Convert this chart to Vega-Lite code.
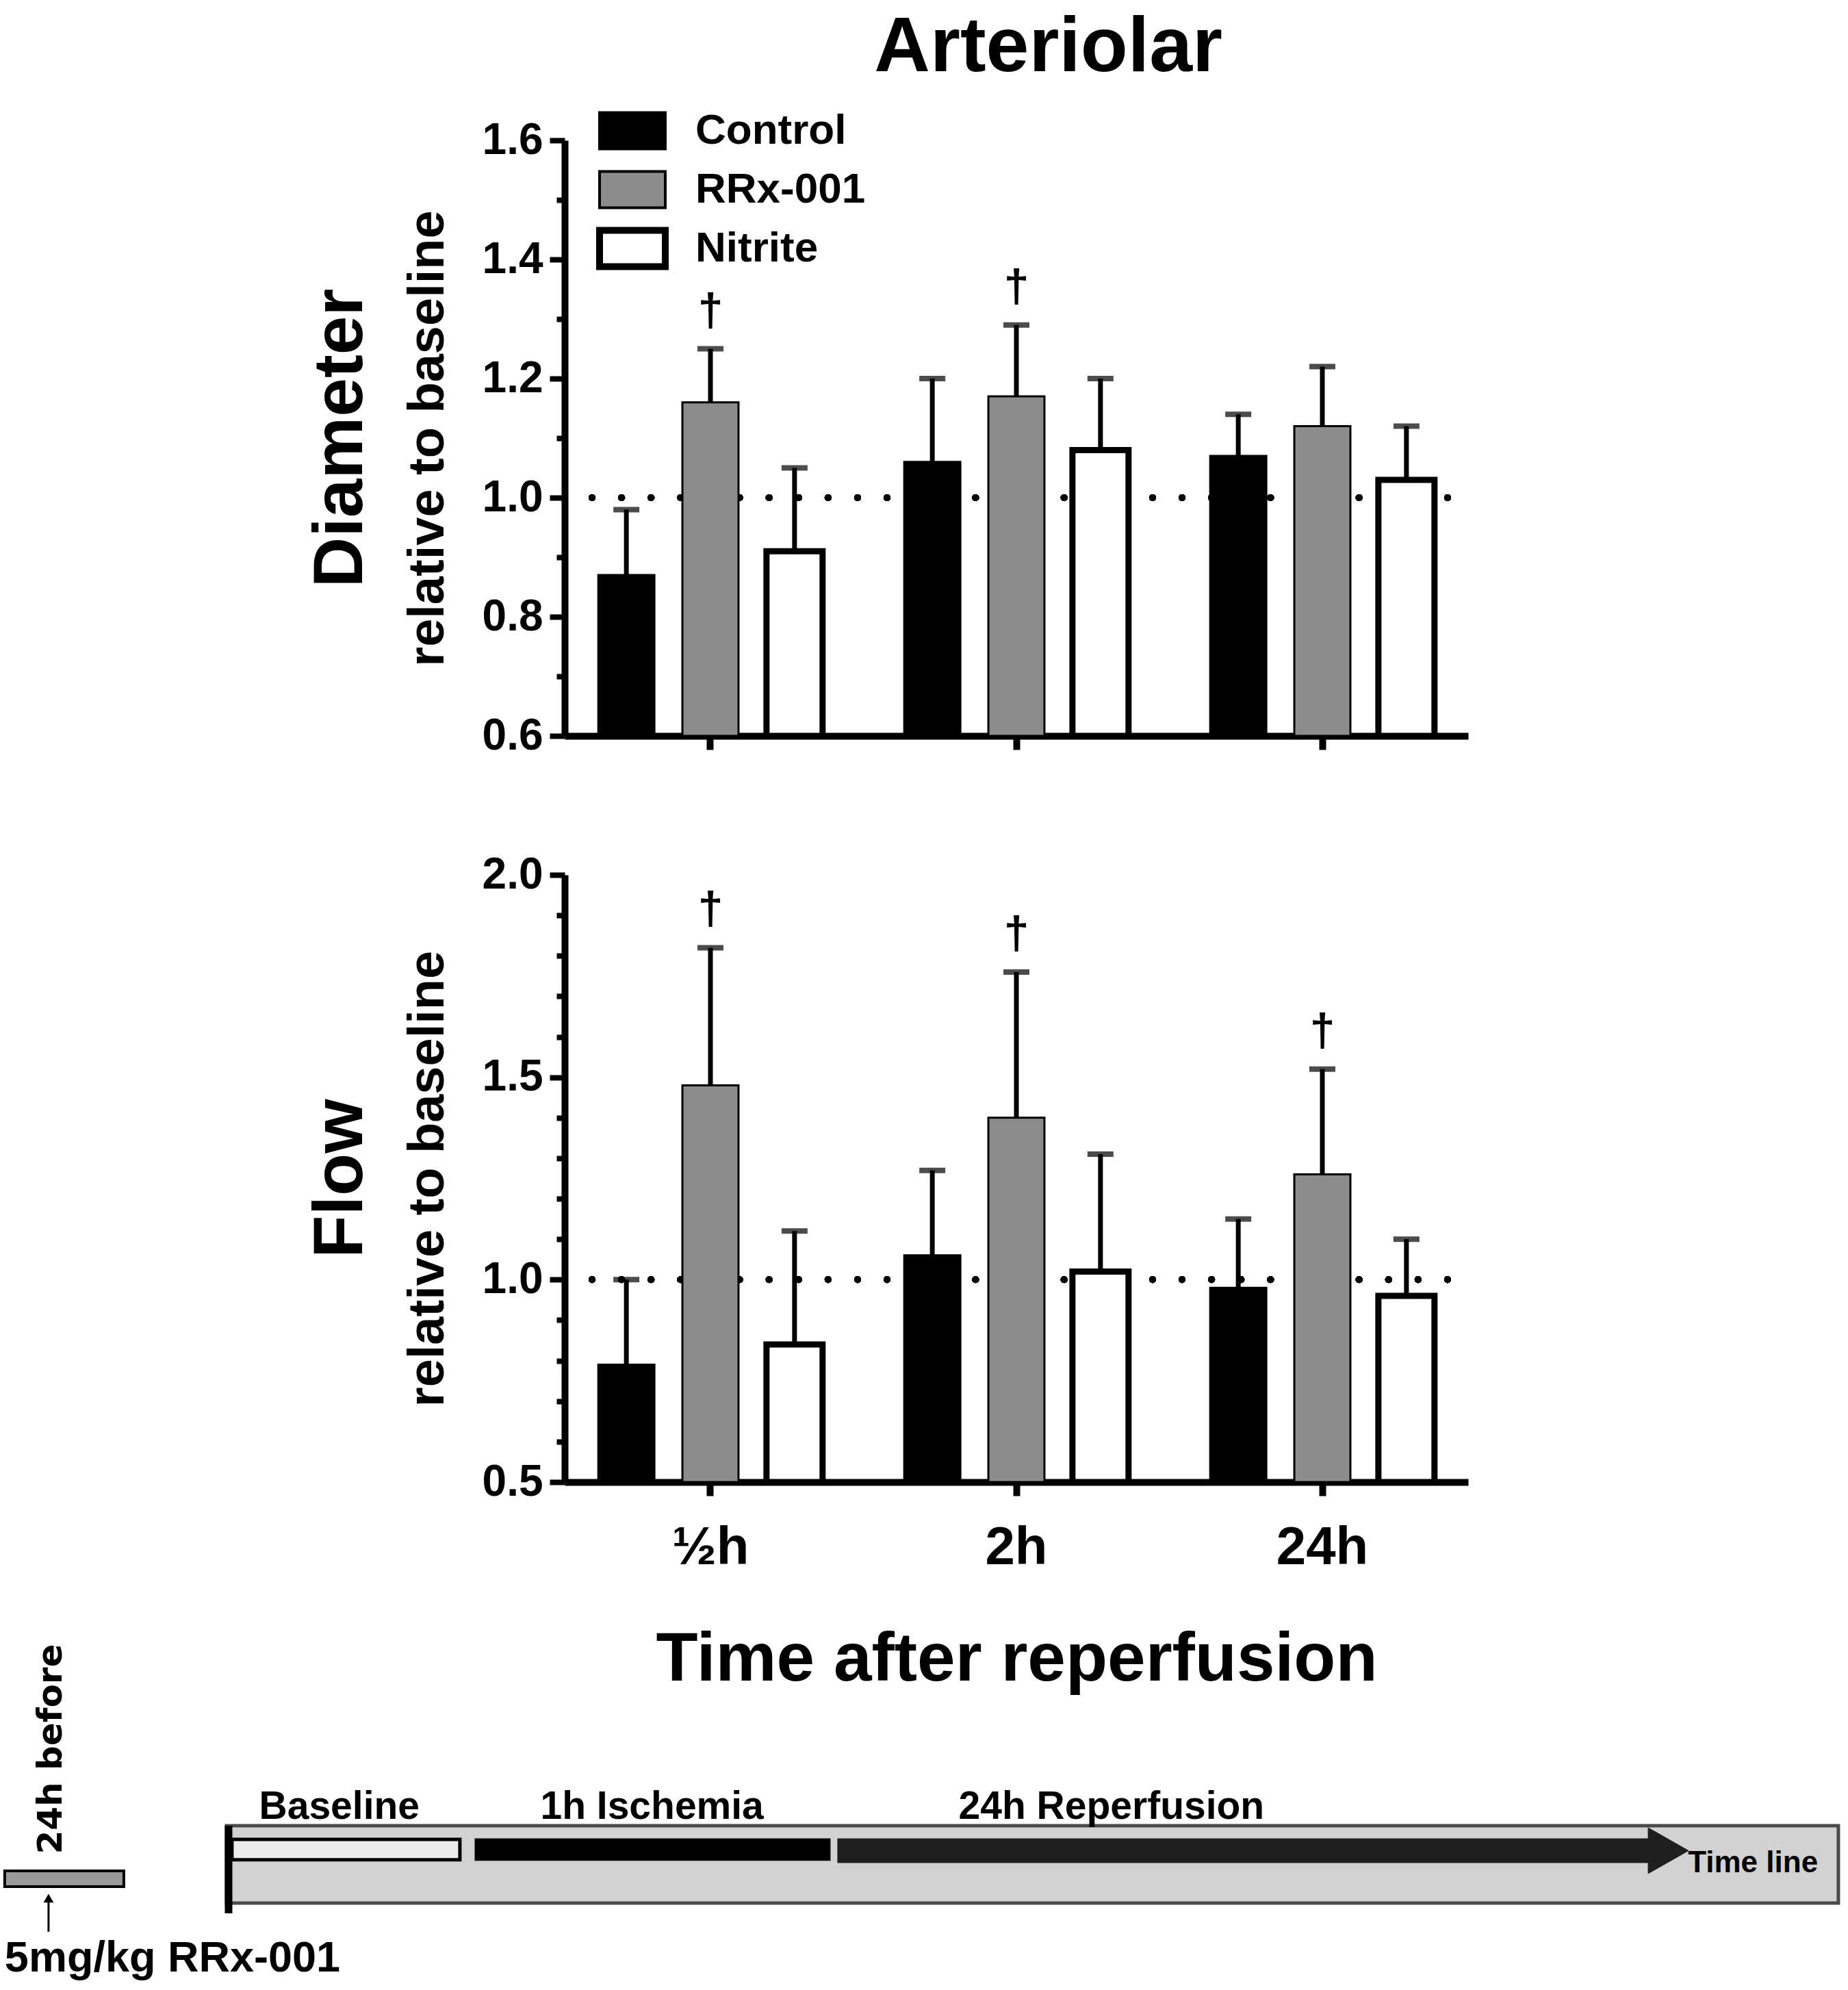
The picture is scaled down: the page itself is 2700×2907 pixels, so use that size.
{
  "$schema": "https://vega.github.io/schema/vega-lite/v6.json",
  "background": "white",
  "padding": {"left": 4, "top": 14, "right": 8, "bottom": 4},
  "config": {
    "view": {"stroke": null},
    "font": "Liberation Sans",
    "axis": {"domainColor": "black", "tickColor": "black", "labelColor": "black", "titleColor": "black", "grid": false},
    "legend": {"labelColor": "black"},
    "title": {"color": "black"}
  },
  "resolve": {"scale": {"fill": "independent"}, "legend": {"fill": "independent"}},
  "title": {"text": "Arteriolar", "font": "Liberation Sans", "fontSize": 113, "fontWeight": "bold", "anchor": "middle", "dx": 185, "offset": 32},
  "datasets": {
    "diam": [
      {"time": "½h", "series": "Control", "mean": 0.87, "err": 0.98, "sig": ""},
      {"time": "½h", "series": "RRx-001", "mean": 1.16, "err": 1.25, "sig": "†"},
      {"time": "½h", "series": "Nitrite", "mean": 0.91, "err": 1.05, "sig": ""},
      {"time": "2h", "series": "Control", "mean": 1.06, "err": 1.20, "sig": ""},
      {"time": "2h", "series": "RRx-001", "mean": 1.17, "err": 1.29, "sig": "†"},
      {"time": "2h", "series": "Nitrite", "mean": 1.08, "err": 1.20, "sig": ""},
      {"time": "24h", "series": "Control", "mean": 1.07, "err": 1.14, "sig": ""},
      {"time": "24h", "series": "RRx-001", "mean": 1.12, "err": 1.22, "sig": ""},
      {"time": "24h", "series": "Nitrite", "mean": 1.03, "err": 1.12, "sig": ""}
    ],
    "flow": [
      {"time": "½h", "series": "Control", "mean": 0.79, "err": 1.00, "sig": ""},
      {"time": "½h", "series": "RRx-001", "mean": 1.48, "err": 1.82, "sig": "†"},
      {"time": "½h", "series": "Nitrite", "mean": 0.84, "err": 1.12, "sig": ""},
      {"time": "2h", "series": "Control", "mean": 1.06, "err": 1.27, "sig": ""},
      {"time": "2h", "series": "RRx-001", "mean": 1.40, "err": 1.76, "sig": "†"},
      {"time": "2h", "series": "Nitrite", "mean": 1.02, "err": 1.31, "sig": ""},
      {"time": "24h", "series": "Control", "mean": 0.98, "err": 1.15, "sig": ""},
      {"time": "24h", "series": "RRx-001", "mean": 1.26, "err": 1.52, "sig": "†"},
      {"time": "24h", "series": "Nitrite", "mean": 0.96, "err": 1.10, "sig": ""}
    ],
    "box": [{"x": 0, "x2": 100, "y": 0, "y2": 4.8}],
    "phases": [
      {"phase": "Baseline", "start": 0.34, "end": 14.48, "lo": 2.68, "hi": 3.95},
      {"phase": "1h Ischemia", "start": 15.46, "end": 37.41, "lo": 2.68, "hi": 3.95},
      {"phase": "24h Reperfusion", "start": 37.96, "end": 88.32, "lo": 2.55, "hi": 3.95}
    ],
    "head": [
      {"x": 88.2, "lo": 1.83, "hi": 4.67},
      {"x": 90.7, "lo": 3.25, "hi": 3.25}
    ],
    "start": [{"x": 0.13, "y": -0.64, "y2": 4.8}],
    "dose": [{"x": -13.76, "x2": -6.37, "y": 1.02, "y2": 2.0}],
    "arrow": [{"x": -11.04, "y": -1.78, "y2": 0.3}],
    "phaselabels": [
      {"label": "Baseline", "x": 7.0, "y": 5.22},
      {"label": "1h Ischemia", "x": 26.4, "y": 5.22},
      {"label": "24h Reperfusion", "x": 54.9, "y": 5.22}
    ],
    "tl": [{"label": "Time line", "x": 94.7, "y": 2.46}],
    "dosetext": [{"label": "5mg/kg RRx-001", "x": -13.76, "y": -3.44}],
    "before": [{"label": "24h before", "x": -10.87, "y": 9.55}]
  },
  "bounds": "flush",
  "spacing": 203,
  "vconcat": [
    {
      "width": 1320,
      "height": 870,
      "title": {"text": "Diameter", "orient": "left", "anchor": "middle", "font": "Liberation Sans", "fontSize": 102, "fontWeight": "bold", "offset": 38},
      "data": {"name": "diam"},
      "layer": [
        {
          "mark": {"type": "rule", "strokeWidth": 10, "strokeCap": "round", "strokeDash": [0.1, 43], "strokeDashOffset": -30, "color": "black"},
          "encoding": {"y": {"datum": 1, "type": "quantitative", "scale": {"domain": [0.6, 1.6], "nice": false, "zero": false}}}
        },
        {
          "encoding": {
            "x": {"field": "time", "type": "nominal", "sort": ["½h", "2h", "24h"], "scale": {"paddingInner": 0.267, "paddingOuter": 0.11},
              "axis": {"title": null, "labels": false, "tickSize": 20, "tickWidth": 10, "domainWidth": 10}},
            "xOffset": {"field": "series", "type": "nominal", "sort": ["Control", "RRx-001", "Nitrite"], "scale": {"paddingInner": 0.333, "paddingOuter": 0}},
            "y": {"field": "mean", "type": "quantitative", "scale": {"domain": [0.6, 1.6], "nice": false, "zero": false},
              "axis": {"title": "relative to baseline", "titleFont": "Liberation Sans", "titleFontSize": 74, "titleFontWeight": "bold", "titlePadding": 41,
                "values": [0.6, 0.7, 0.8, 0.9, 1.0, 1.1, 1.2, 1.3, 1.4, 1.5, 1.6],
                "labelExpr": "round(datum.value*10)%2==0 ? format(datum.value, '.1f') : ''",
                "labelFont": "Liberation Sans", "labelFontSize": 64, "labelFontWeight": "bold", "labelPadding": 10, "labelOverlap": false, "labelFlush": false,
                "tickSize": {"condition": {"test": "round(datum.value*10)%2==0", "value": 22}, "value": 12},
                "tickWidth": 8, "domainWidth": 10}}
          },
          "layer": [
            {
              "mark": {"type": "bar", "stroke": "black"},
              "encoding": {
                "y2": {"datum": 0.6},
                "fill": {"field": "series", "type": "nominal", "scale": {"domain": ["Control", "RRx-001", "Nitrite"], "range": ["#000000", "#8c8c8c", "#ffffff"]},
                  "legend": {"title": null, "orient": "none", "legendX": 68, "legendY": -45, "direction": "vertical", "padding": 0, "gridAlign": "all",
                    "symbolType": "M-1,-0.55H1V0.55H-1Z", "symbolSize": 9216, "symbolStrokeColor": "black", "symbolOpacity": 1,
                    "labelFont": "Liberation Sans", "labelFontWeight": "bold", "labelFontSize": 62, "labelOffset": 61, "labelLimit": 0, "rowPadding": -8,
                    "encode": {"symbols": {"update": {"strokeWidth": {"signal": "datum.value === 'Nitrite' ? 10 : 4"}}}}}},
                "strokeWidth": {"condition": {"test": "datum.series === 'Nitrite'", "value": 9}, "value": 3}
              }
            },
            {
              "mark": {"type": "rule", "strokeWidth": 7, "color": "black"},
              "encoding": {"y2": {"field": "err"}}
            },
            {
              "mark": {"type": "tick", "orient": "horizontal", "size": 38, "thickness": 8, "color": "black"},
              "encoding": {"y": {"field": "err", "type": "quantitative", "scale": {"domain": [0.6, 1.6], "nice": false, "zero": false}}}
            },
            {
              "transform": [{"filter": "datum.sig != ''"}],
              "mark": {"type": "text", "font": "Liberation Sans", "fontSize": 66, "fontWeight": "bold", "dy": -55, "baseline": "middle", "align": "center", "color": "black"},
              "encoding": {"y": {"field": "err", "type": "quantitative", "scale": {"domain": [0.6, 1.6], "nice": false, "zero": false}}, "text": {"field": "sig"}}
            }
          ]
        }
      ]
    },
    {
      "width": 1320,
      "height": 887,
      "title": {"text": "Flow", "orient": "left", "anchor": "middle", "font": "Liberation Sans", "fontSize": 102, "fontWeight": "bold", "offset": 38},
      "data": {"name": "flow"},
      "layer": [
        {
          "mark": {"type": "rule", "strokeWidth": 10, "strokeCap": "round", "strokeDash": [0.1, 43], "strokeDashOffset": -30, "color": "black"},
          "encoding": {"y": {"datum": 1, "type": "quantitative", "scale": {"domain": [0.5, 2.0], "nice": false, "zero": false}}}
        },
        {
          "encoding": {
            "x": {"field": "time", "type": "nominal", "sort": ["½h", "2h", "24h"], "scale": {"paddingInner": 0.267, "paddingOuter": 0.11},
              "axis": {"title": "Time after reperfusion", "titleFont": "Liberation Sans", "titleFontSize": 100, "titleFontWeight": "bold", "titlePadding": 75,
                "labelFont": "Liberation Sans", "labelFontSize": 78, "labelFontWeight": "bold", "labelPadding": 37, "labelAngle": 0,
                "tickSize": 20, "tickWidth": 10, "domainWidth": 10}},
            "xOffset": {"field": "series", "type": "nominal", "sort": ["Control", "RRx-001", "Nitrite"], "scale": {"paddingInner": 0.333, "paddingOuter": 0}},
            "y": {"field": "mean", "type": "quantitative", "scale": {"domain": [0.5, 2.0], "nice": false, "zero": false},
              "axis": {"title": "relative to baseline", "titleFont": "Liberation Sans", "titleFontSize": 74, "titleFontWeight": "bold", "titlePadding": 41,
                "values": [0.5, 0.6, 0.7, 0.8, 0.9, 1.0, 1.1, 1.2, 1.3, 1.4, 1.5, 1.6, 1.7, 1.8, 1.9, 2.0],
                "labelExpr": "round(datum.value*10)%5==0 ? format(datum.value, '.1f') : ''",
                "labelFont": "Liberation Sans", "labelFontSize": 64, "labelFontWeight": "bold", "labelPadding": 10, "labelOverlap": false, "labelFlush": false,
                "tickSize": {"condition": {"test": "round(datum.value*10)%5==0", "value": 22}, "value": 12},
                "tickWidth": 8, "domainWidth": 10}}
          },
          "layer": [
            {
              "mark": {"type": "bar", "stroke": "black"},
              "encoding": {
                "y2": {"datum": 0.5},
                "fill": {"field": "series", "type": "nominal", "scale": {"domain": ["Control", "RRx-001", "Nitrite"], "range": ["#000000", "#8c8c8c", "#ffffff"]}, "legend": null},
                "strokeWidth": {"condition": {"test": "datum.series === 'Nitrite'", "value": 9}, "value": 3}
              }
            },
            {
              "mark": {"type": "rule", "strokeWidth": 7, "color": "black"},
              "encoding": {"y2": {"field": "err"}}
            },
            {
              "mark": {"type": "tick", "orient": "horizontal", "size": 38, "thickness": 8, "color": "black"},
              "encoding": {"y": {"field": "err", "type": "quantitative", "scale": {"domain": [0.5, 2.0], "nice": false, "zero": false}}}
            },
            {
              "transform": [{"filter": "datum.sig != ''"}],
              "mark": {"type": "text", "font": "Liberation Sans", "fontSize": 66, "fontWeight": "bold", "dy": -55, "baseline": "middle", "align": "center", "color": "black"},
              "encoding": {"y": {"field": "err", "type": "quantitative", "scale": {"domain": [0.5, 2.0], "nice": false, "zero": false}}, "text": {"field": "sig"}}
            }
          ]
        }
      ]
    },
    {
      "width": 1320,
      "height": 530,
      "layer": [
        {
          "data": {"name": "box"},
          "mark": {"type": "rect", "fill": "#d2d2d2", "stroke": "#4a4a4a", "strokeWidth": 5},
          "encoding": {
            "x": {"field": "x", "type": "quantitative", "scale": {"domain": [20.98, 77.03], "nice": false, "zero": false}, "axis": null},
            "x2": {"field": "x2"},
            "y": {"field": "y", "type": "quantitative", "scale": {"domain": [-5.01, 17.49], "nice": false, "zero": false}, "axis": null},
            "y2": {"field": "y2"}
          }
        },
        {
          "data": {"name": "phases"},
          "transform": [{"filter": "datum.phase === 'Baseline'"}],
          "mark": {"type": "rect", "fill": "#ececec", "stroke": "black", "strokeWidth": 5},
          "encoding": {
            "x": {"field": "start", "type": "quantitative", "scale": {"domain": [20.98, 77.03], "nice": false, "zero": false}, "axis": null},
            "x2": {"field": "end"},
            "y": {"field": "lo", "type": "quantitative", "scale": {"domain": [-5.01, 17.49], "nice": false, "zero": false}, "axis": null},
            "y2": {"field": "hi"}
          }
        },
        {
          "data": {"name": "phases"},
          "transform": [{"filter": "datum.phase === '1h Ischemia'"}],
          "mark": {"type": "rect", "fill": "#000000", "stroke": "black", "strokeWidth": 3},
          "encoding": {
            "x": {"field": "start", "type": "quantitative", "scale": {"domain": [20.98, 77.03], "nice": false, "zero": false}, "axis": null},
            "x2": {"field": "end"},
            "y": {"field": "lo", "type": "quantitative", "scale": {"domain": [-5.01, 17.49], "nice": false, "zero": false}, "axis": null},
            "y2": {"field": "hi"}
          }
        },
        {
          "data": {"name": "phases"},
          "transform": [{"filter": "datum.phase === '24h Reperfusion'"}],
          "mark": {"type": "rect", "fill": "#1f1f1f", "stroke": "#1f1f1f", "strokeWidth": 3},
          "encoding": {
            "x": {"field": "start", "type": "quantitative", "scale": {"domain": [20.98, 77.03], "nice": false, "zero": false}, "axis": null},
            "x2": {"field": "end"},
            "y": {"field": "lo", "type": "quantitative", "scale": {"domain": [-5.01, 17.49], "nice": false, "zero": false}, "axis": null},
            "y2": {"field": "hi"}
          }
        },
        {
          "data": {"name": "head"},
          "mark": {"type": "area", "fill": "#1f1f1f", "stroke": "#1f1f1f", "strokeWidth": 1},
          "encoding": {
            "x": {"field": "x", "type": "quantitative", "scale": {"domain": [20.98, 77.03], "nice": false, "zero": false}, "axis": null},
            "y": {"field": "lo", "type": "quantitative", "scale": {"domain": [-5.01, 17.49], "nice": false, "zero": false}, "axis": null},
            "y2": {"field": "hi"}
          }
        },
        {
          "data": {"name": "start"},
          "mark": {"type": "rule", "strokeWidth": 11, "color": "black"},
          "encoding": {
            "x": {"field": "x", "type": "quantitative", "scale": {"domain": [20.98, 77.03], "nice": false, "zero": false}, "axis": null},
            "y": {"field": "y", "type": "quantitative", "scale": {"domain": [-5.01, 17.49], "nice": false, "zero": false}, "axis": null},
            "y2": {"field": "y2"}
          }
        },
        {
          "data": {"name": "dose"},
          "mark": {"type": "rect", "fill": "#9a9a9a", "stroke": "black", "strokeWidth": 4},
          "encoding": {
            "x": {"field": "x", "type": "quantitative", "scale": {"domain": [20.98, 77.03], "nice": false, "zero": false}, "axis": null},
            "x2": {"field": "x2"},
            "y": {"field": "y", "type": "quantitative", "scale": {"domain": [-5.01, 17.49], "nice": false, "zero": false}, "axis": null},
            "y2": {"field": "y2"}
          }
        },
        {
          "data": {"name": "arrow"},
          "mark": {"type": "rule", "strokeWidth": 3, "color": "black"},
          "encoding": {
            "x": {"field": "x", "type": "quantitative", "scale": {"domain": [20.98, 77.03], "nice": false, "zero": false}, "axis": null},
            "y": {"field": "y", "type": "quantitative", "scale": {"domain": [-5.01, 17.49], "nice": false, "zero": false}, "axis": null},
            "y2": {"field": "y2"}
          }
        },
        {
          "data": {"name": "arrow"},
          "mark": {"type": "point", "shape": "triangle-up", "filled": true, "size": 220, "color": "black", "opacity": 1},
          "encoding": {
            "x": {"field": "x", "type": "quantitative", "scale": {"domain": [20.98, 77.03], "nice": false, "zero": false}, "axis": null},
            "y": {"field": "y2", "type": "quantitative", "scale": {"domain": [-5.01, 17.49], "nice": false, "zero": false}, "axis": null}
          }
        },
        {
          "data": {"name": "phaselabels"},
          "mark": {"type": "text", "font": "Liberation Sans", "fontSize": 57, "fontWeight": "bold", "align": "center", "baseline": "alphabetic", "color": "black"},
          "encoding": {
            "x": {"field": "x", "type": "quantitative", "scale": {"domain": [20.98, 77.03], "nice": false, "zero": false}, "axis": null},
            "y": {"field": "y", "type": "quantitative", "scale": {"domain": [-5.01, 17.49], "nice": false, "zero": false}, "axis": null},
            "text": {"field": "label"}
          }
        },
        {
          "data": {"name": "tl"},
          "mark": {"type": "text", "font": "Liberation Sans", "fontSize": 44, "fontWeight": "bold", "align": "center", "baseline": "middle", "color": "black"},
          "encoding": {
            "x": {"field": "x", "type": "quantitative", "scale": {"domain": [20.98, 77.03], "nice": false, "zero": false}, "axis": null},
            "y": {"field": "y", "type": "quantitative", "scale": {"domain": [-5.01, 17.49], "nice": false, "zero": false}, "axis": null},
            "text": {"field": "label"}
          }
        },
        {
          "data": {"name": "dosetext"},
          "mark": {"type": "text", "font": "Liberation Sans", "fontSize": 63, "fontWeight": "bold", "align": "left", "baseline": "middle", "color": "black"},
          "encoding": {
            "x": {"field": "x", "type": "quantitative", "scale": {"domain": [20.98, 77.03], "nice": false, "zero": false}, "axis": null},
            "y": {"field": "y", "type": "quantitative", "scale": {"domain": [-5.01, 17.49], "nice": false, "zero": false}, "axis": null},
            "text": {"field": "label"}
          }
        },
        {
          "data": {"name": "before"},
          "mark": {"type": "text", "font": "DejaVu Sans", "fontSize": 50, "fontWeight": "bold", "align": "center", "baseline": "middle", "angle": 270, "color": "black"},
          "encoding": {
            "x": {"field": "x", "type": "quantitative", "scale": {"domain": [20.98, 77.03], "nice": false, "zero": false}, "axis": null},
            "y": {"field": "y", "type": "quantitative", "scale": {"domain": [-5.01, 17.49], "nice": false, "zero": false}, "axis": null},
            "text": {"field": "label"}
          }
        }
      ]
    }
  ]
}
